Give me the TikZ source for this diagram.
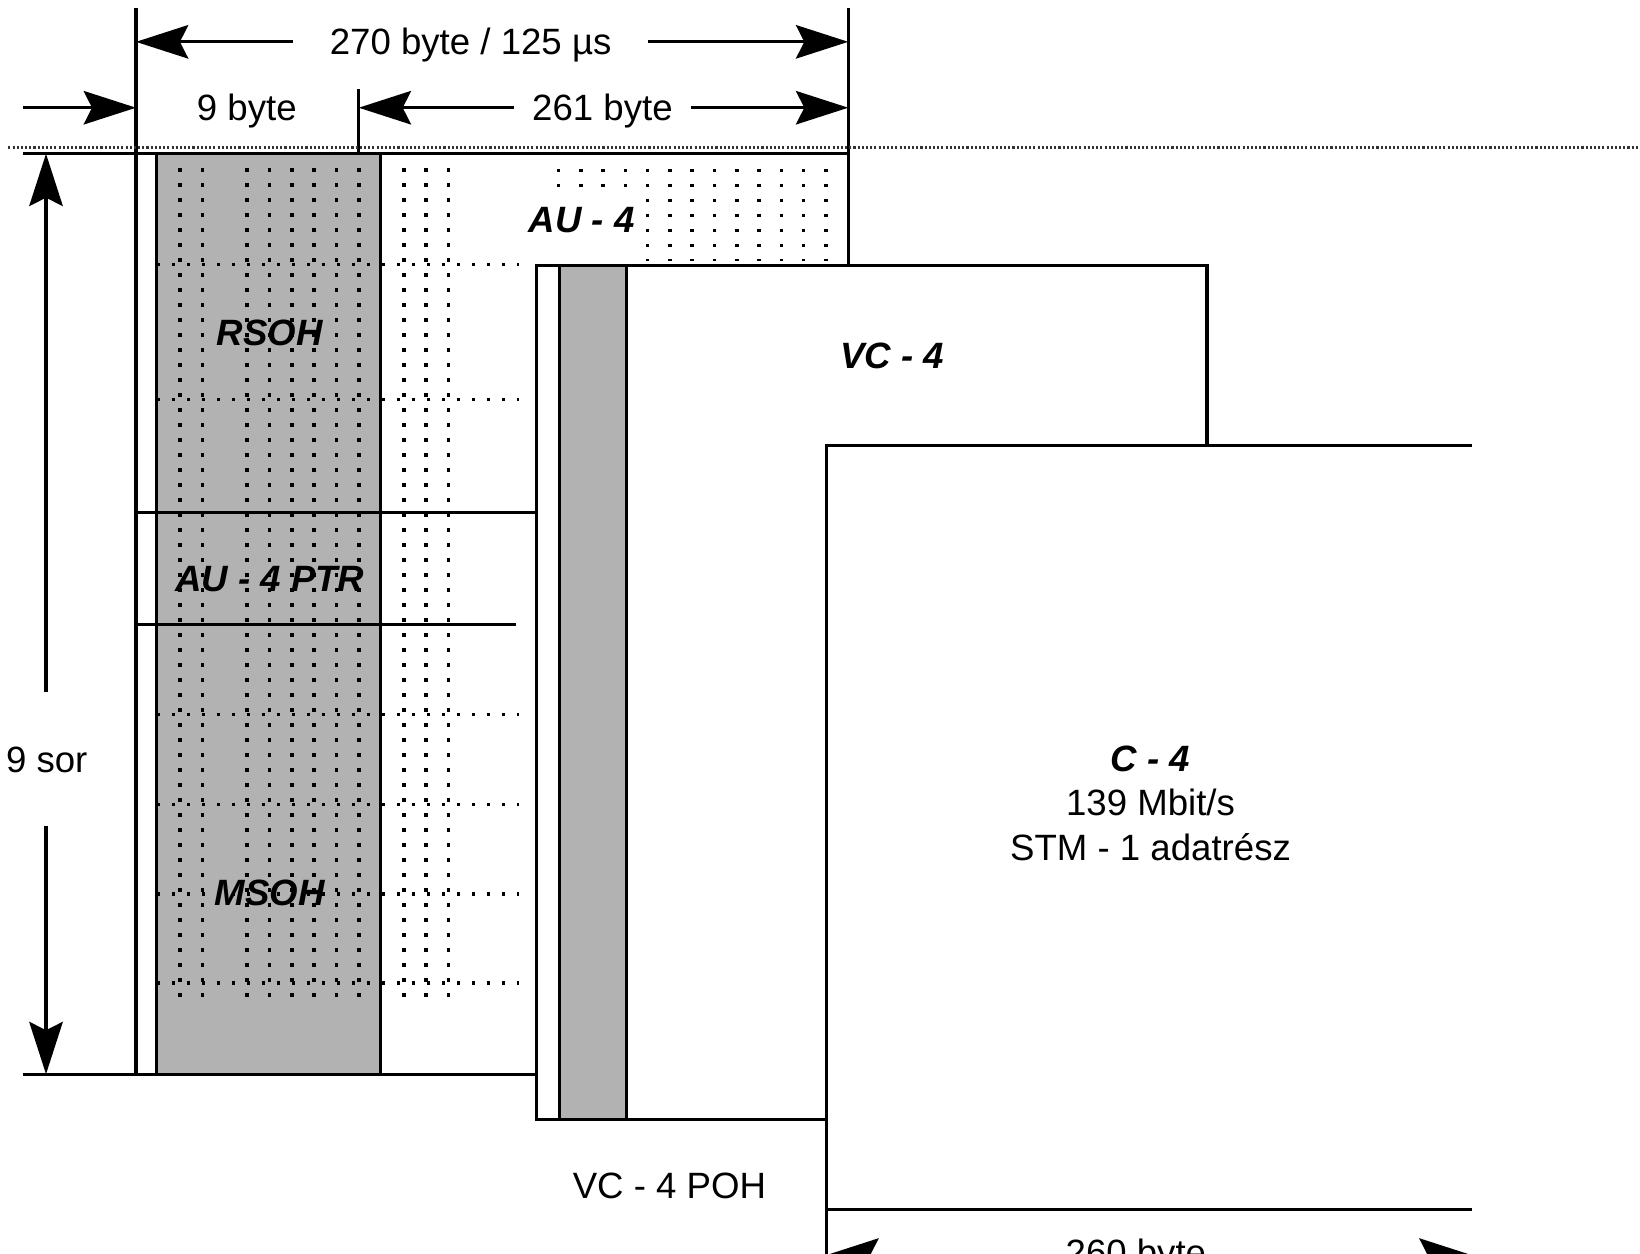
\documentclass[tikz,border=0pt]{standalone}
\usepackage{fontspec}
\setmainfont{Liberation Sans}
\usetikzlibrary{arrows.meta}

\begin{document}
\begin{tikzpicture}[
    x=0.5pt, y=-0.5pt,
    txt/.style={font=\fontsize{17.5}{21.25}\selectfont, inner sep=0pt, text height=12.5pt, text depth=0pt},
    lab/.style={txt, font=\fontsize{17.5}{21.25}\selectfont\bfseries\itshape},
    body/.style={font=\fontsize{17.5}{21.25}\selectfont, inner sep=0pt, align=center},
    edge/.style={line width=1.5pt},
    dimline/.style={line width=1.5pt, -{Stealth[length=25pt, width=16pt, inset=4pt]}},
    dots/.style={line width=1.7pt, dash pattern=on 1.7pt off 5.47pt},
    fine/.style={line width=1pt, black!80, dash pattern=on 1pt off 1pt},
    ohcol/.style={draw, fill=black!30, line width=1.5pt}
]
\useasboundingbox (0,0) rectangle (1568,1198);
\clip (0,0) rectangle (1568,1198);

% STM-1 frame - overhead columns
\filldraw[ohcol] (150,147) rectangle (364,1027);

% Byte grid
\foreach \c in {0,1,3,4,5,6,7,8,10,11,12}
  \draw[dots] (172+21.4*\c,161) -- (172+21.4*\c,963);
\foreach \r in {253,382,683,769,855,940}
  \draw[dots] (150,\r) -- (496,\r);

% AU-4 grid
\foreach \c in {0,...,3}
  \draw[dots] (534+21.3*\c,161.5) -- (534+21.3*\c,180);
\foreach \c in {4,...,12}
  \draw[dots] (534+21.3*\c,161.5) -- (534+21.3*\c,250);

% Frame lines
\draw[edge] (130,8) -- (130,1027);
\draw[edge] (811,8) -- (811,254);
\draw[edge] (343,85) -- (343,147);
\draw[edge] (22,147) -- (811,147);
\draw[edge] (22,1027) -- (513,1027);
\draw[edge] (130,490) -- (513,490);
\draw[edge] (130,597) -- (493,597);
\draw[fine] (8,141) -- (1568,141);

% VC-4 with POH
\draw[edge, fill=white] (513,254) rectangle (1154,1070);
\filldraw[ohcol] (535,254) rectangle (599,1070);

% C-4
\fill[white] (790,426) rectangle (1407,1156);
\draw[edge] (1407,426) -- (790,426) -- (790,1200);
\draw[edge] (790,1156) -- (1407,1156);

% Labels
\node[txt] (t270) at (450,40) {270 byte / 125 µs};
\node[txt] (t9) at (236,103) {9 byte};
\node[txt] (t261) at (576,103) {261 byte};
\node[txt, anchor=east] (tsor) at (84,726) {9 sor};
\node[lab] (au4) at (556,210) {AU - 4};
\node[lab] (rsoh) at (258,318) {RSOH};
\node[lab] (ptr) at (258,553) {AU - 4 PTR};
\node[lab] (msoh) at (258,853) {MSOH};
\node[lab] (vc4) at (853,340) {VC - 4};
\node[txt] (vcpoh) at (640,1133) {VC - 4 POH};
\node[body] (c4) at (1100,768) {{\bfseries\itshape C - 4}\\139 Mbit/s\\STM - 1 adatrész};
\node[txt] (t260) at (1086,1197) {260 byte};

% Dimension arrows
\coordinate (wl) at (130,40);
\coordinate (wr) at (811,40);
\coordinate (ia) at (22,103);
\coordinate (ib) at (130,103);
\coordinate (ka) at (343,103);
\coordinate (kb) at (811,103);
\coordinate (sa) at (44,147);
\coordinate (sc) at (44,662);
\coordinate (sd) at (44,790);
\coordinate (sb) at (44,1027);
\coordinate (ca) at (790,1200);
\coordinate (cb) at (1407,1200);

\draw[dimline] ([xshift=-17.5pt]t270.west) -- (wl);
\draw[dimline] ([xshift=17.5pt]t270.east) -- (wr);
\draw[dimline] (ia) -- (ib);
\draw[dimline] ([xshift=-8.5pt]t261.west) -- (ka);
\draw[dimline] ([xshift=8.5pt]t261.east) -- (kb);
\draw[dimline] (sc) -- (sa);
\draw[dimline] (sd) -- (sb);
\draw[dimline] ([xshift=-17pt]t260.west |- ca) -- (ca);
\draw[dimline] ([xshift=17pt]t260.east |- cb) -- (cb);

\end{tikzpicture}
\end{document}
